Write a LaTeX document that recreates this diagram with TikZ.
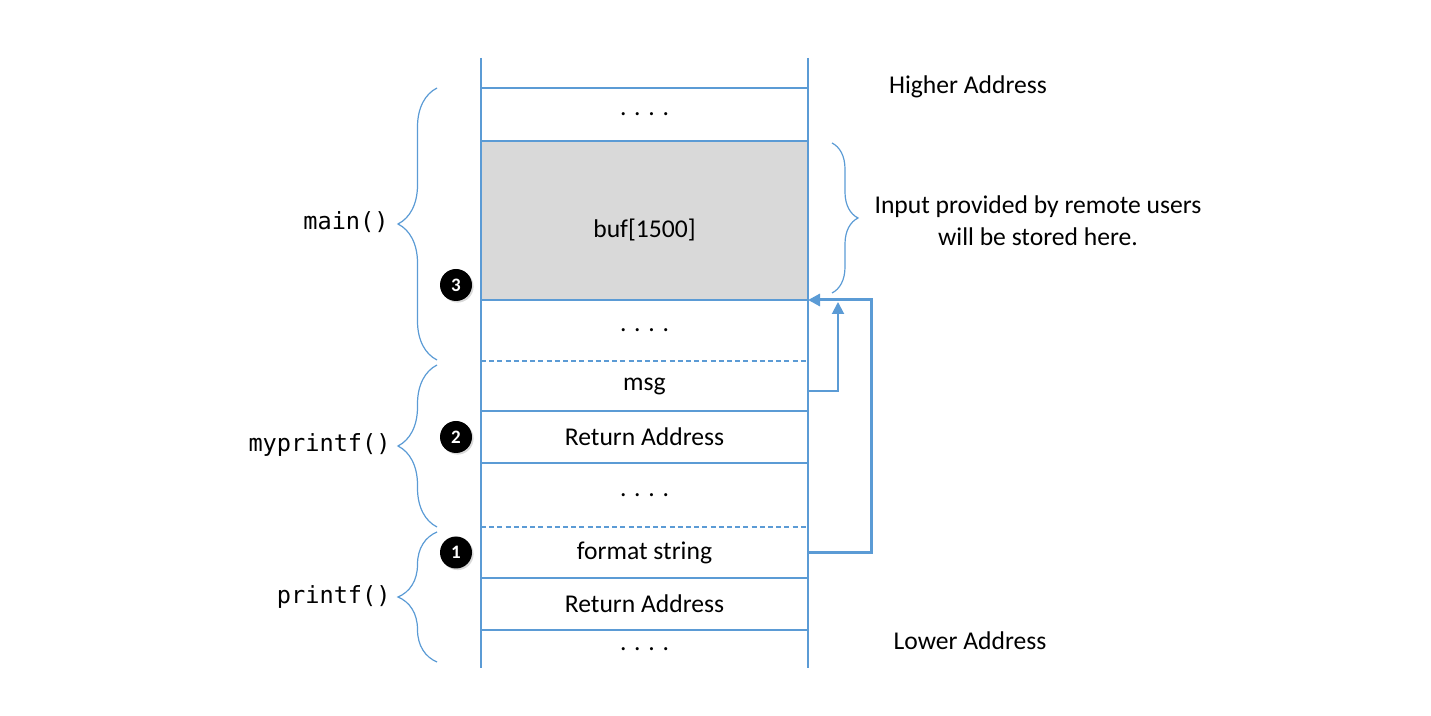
\documentclass[tikz,border=0pt]{standalone}
\usepackage{fontspec}
\setmainfont{Carlito}
\setmonofont{DejaVu Sans Mono}
\usepackage{tikz}
\usetikzlibrary{positioning,arrows.meta,decorations.pathreplacing,shadows}
\definecolor{stackblue}{RGB}{91,155,213}
\definecolor{bufgray}{RGB}{217,217,217}

\begin{document}
\begin{tikzpicture}[x=0.5pt, y=-0.5pt, font=\fontsize{12.8}{16}\selectfont,
  cell/.style={minimum width=163.5pt, inner sep=0pt, outer sep=0pt},
  wall/.style={draw=stackblue, line width=1pt},
  dashrow/.style={draw=stackblue, line width=1.3pt, dash pattern=on 2.5pt off 1.6pt},
  ptr/.style={draw=stackblue, -{Triangle[length=6pt,width=6pt]}},
  curly/.style={draw=stackblue, line width=0.6pt, decorate},
  badge/.style={circle, fill=black, text=white, inner sep=0pt, minimum size=16pt,
    font=\fontsize{9.5}{9.5}\selectfont\bfseries,
    drop shadow={shadow xshift=0.8pt, shadow yshift=-0.8pt, opacity=0.3}},
  fnname/.style={font=\fontsize{11.8}{14}\selectfont\ttfamily, anchor=east, inner sep=0pt}]
\useasboundingbox (0,0) rectangle (1431,716);

% Stack rows, top to bottom
\node[cell, minimum height=15pt] (top) at (644.5,73) {};
\node[cell, minimum height=26.5pt, below=0pt of top] (dotsA) {. . . .};
\node[cell, minimum height=79.5pt, below=0pt of dotsA, draw=stackblue, line width=1pt, fill=bufgray,
  label={[yshift=-4.5pt]center:{buf[1500]}}] (buf) {};
\node[cell, minimum height=30.5pt, below=0pt of buf] (dotsB) {. . . .};
\node[cell, minimum height=25pt, below=0pt of dotsB] (msg) {msg};
\node[cell, minimum height=26pt, below=0pt of msg] (retB) {Return Address};
\node[cell, minimum height=32pt, below=0pt of retB] (dotsC) {. . . .};
\node[cell, minimum height=25.5pt, below=0pt of dotsC] (fmt) {format string};
\node[cell, minimum height=26pt, below=0pt of fmt] (retA) {Return Address};
\node[cell, minimum height=19pt, below=0pt of retA] (dotsD) {. . . .};

% Stack walls and row borders
\draw[wall] (top.north west) -- (dotsD.south west);
\draw[wall] (top.north east) -- (dotsD.south east);
\foreach \r in {top,buf,msg,retB,fmt,retA}
    \draw[wall] (\r.south west) -- (\r.south east);
\foreach \r in {dotsB,dotsC}
    \draw[dashrow] (\r.south west) -- (\r.south east);

% Pointers into buf
\draw[ptr, line width=1.5pt] (fmt.east) -- ++(63,0) |- (buf.south east);
\draw[ptr, line width=1pt, shorten >=1pt] ([yshift=-2.5pt]msg.east) -| ([xshift=15pt]buf.south east);

% Numbered markers
\node[badge] (n3) at ([xshift=-12.5pt, yshift=7.5pt]buf.south west) {3};
\node[badge] (n2) at ([xshift=-12.5pt]retB.west) {2};
\node[badge] (n1) at ([xshift=-12.5pt]fmt.west) {1};

% Frames
\draw[curly, decoration={brace, amplitude=19.5pt}] (437,360) -- (437,88);
\draw[curly, decoration={brace, amplitude=19.5pt}] (437,527) -- (437,365);
\draw[curly, decoration={brace, amplitude=19.5pt}] (437,662) -- (437,532);
\node[fnname] (mainf) at (389,222) {main()};
\node[fnname] (myprintff) at (391,445) {myprintf()};
\node[fnname] (printff) at (391,597) {printf()};

% Input region
\draw[curly, decoration={brace, amplitude=13pt}] (832,143) -- (832,293);
\node[align=center] (note) at (1038,221) {Input provided by remote users\\will be stored here.};

\node (high) at (968,87) {Higher Address};
\node (low) at (970,641) {Lower Address};
\end{tikzpicture}
\end{document}
